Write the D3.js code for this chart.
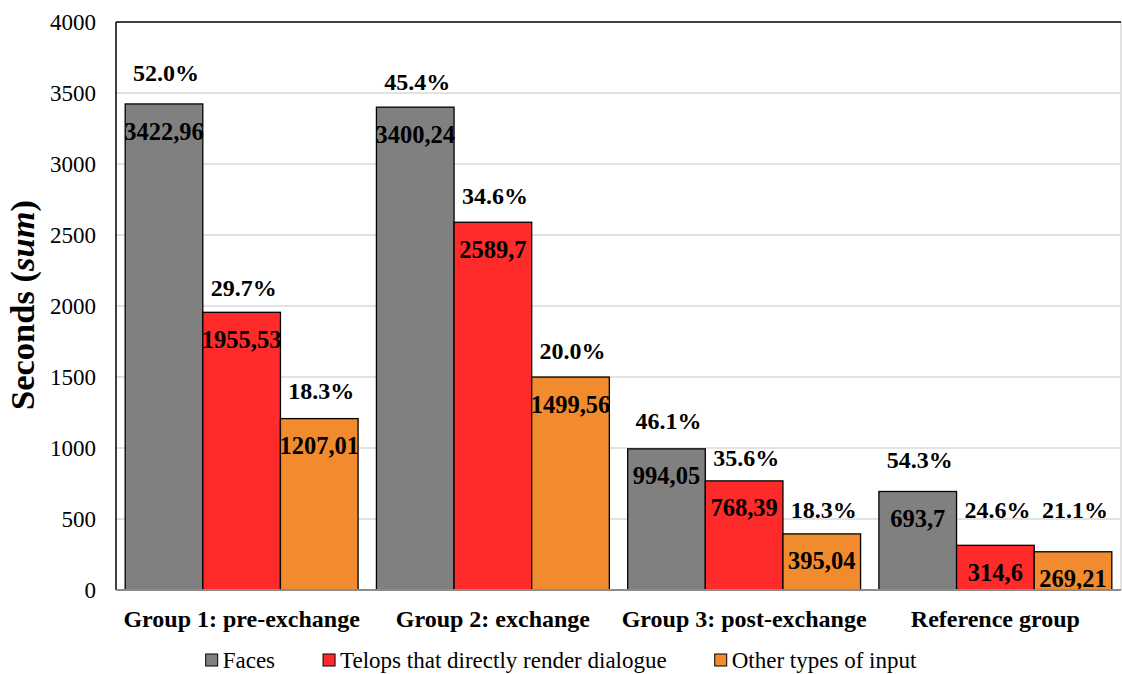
<!DOCTYPE html>
<html>
<head>
<meta charset="utf-8">
<script src="https://cdn.jsdelivr.net/npm/d3@7"></script>
<style>
  html, body { margin: 0; padding: 0; background: #fff; }
  svg { display: block; font-family: "Liberation Serif", "Times New Roman", serif; }
</style>
</head>
<body>
<svg id="chart" width="1122" height="674"></svg>
<script>
// ---- Data ----
const categories = ["Group 1: pre-exchange", "Group 2: exchange", "Group 3: post-exchange", "Reference group"];
const seriesNames = ["Faces", "Telops that directly render dialogue", "Other types of input"];
const faces  = [3422.96, 3400.24, 994.05, 693.7];
const telops = [1955.53, 2589.7, 768.39, 314.6];
const other  = [1207.01, 1499.56, 395.04, 269.21];
const yTicks = [0, 500, 1000, 1500, 2000, 2500, 3000, 3500, 4000];

// ---- Styling / layout ----
const colors = ["#808080", "#ff2b2b", "#f28a2e"];
// distance (px) of each percentage label centre above its bar top (manually placed in original)
const pctLift = [[31, 25, 28], [26, 27, 26], [28, 23, 24], [32, 36, 42]];

const svg = d3.select("#chart");
const pLeft = 116, pRight = 1121, pTop = 22, pBottom = 590;

const y = d3.scaleLinear().domain([0, 4000]).range([pBottom, pTop]);
const x0 = d3.scaleBand().domain(categories).range([pLeft, pRight]).paddingInner(0.073).paddingOuter(0.0365);
const x1 = d3.scaleBand().domain(d3.range(3)).range([0, x0.bandwidth()]).padding(0);

const seriesVals = [faces, telops, other];

// gridlines
svg.append("g").selectAll("line").data(yTicks.filter(t => t > 0 && t < 4000)).join("line")
  .attr("x1", pLeft).attr("x2", pRight)
  .attr("y1", d => y(d)).attr("y2", d => y(d))
  .attr("stroke", "#d9d9d9").attr("stroke-width", 1.5);

// frame
svg.append("line").attr("x1", pRight).attr("x2", pRight).attr("y1", pTop).attr("y2", pBottom)
  .attr("stroke", "#d9d9d9").attr("stroke-width", 1.5);
svg.append("line").attr("x1", pLeft).attr("x2", pRight).attr("y1", y(4000)).attr("y2", y(4000))
  .attr("stroke", "#000").attr("stroke-width", 1.5);
svg.append("line").attr("x1", pLeft).attr("x2", pLeft).attr("y1", pTop).attr("y2", pBottom)
  .attr("stroke", "#000").attr("stroke-width", 1.5);

// y axis labels
const yAxis = d3.axisLeft(y).tickValues(yTicks).tickSize(0).tickPadding(20).tickFormat(d3.format("d"));
const gy = svg.append("g").attr("transform", `translate(${pLeft},0)`).call(yAxis);
gy.attr("font-family", null);
gy.select(".domain").remove();
gy.selectAll("text").attr("font-family", "Liberation Serif").attr("font-size", 23).attr("fill", "#000");

// bars
const data = [];
categories.forEach((c, i) => {
  const total = d3.sum(seriesVals, s => s[i]);
  seriesVals.forEach((s, j) => data.push({ c, i, j, v: s[i], pct: s[i] / total * 100 }));
});

const gBars = svg.append("g");
gBars.selectAll("rect").data(data).join("rect")
  .attr("x", d => x0(d.c) + x1(d.j))
  .attr("y", d => y(d.v))
  .attr("width", x1.bandwidth())
  .attr("height", d => y(0) - y(d.v))
  .attr("fill", d => colors[d.j])
  .attr("stroke", "#000").attr("stroke-width", 1.3);

// bottom axis line
svg.append("line").attr("x1", pLeft).attr("x2", pRight).attr("y1", pBottom).attr("y2", pBottom)
  .attr("stroke", "#8c8c8c").attr("stroke-width", 2);

// value labels inside bars
gBars.selectAll("text.val").data(data).join("text").attr("class", "val")
  .attr("x", d => x0(d.c) + x1(d.j) + x1.bandwidth() / 2)
  .attr("y", d => y(d.v) + 27)
  .attr("dy", "0.35em")
  .attr("text-anchor", "middle")
  .attr("font-weight", "bold").attr("font-size", 24.5).attr("fill", "#000")
  .text(d => String(d.v).replace(".", ","));

// percentage labels above bars
gBars.selectAll("text.pct").data(data).join("text").attr("class", "pct")
  .attr("x", d => x0(d.c) + x1(d.j) + x1.bandwidth() / 2 + 2)
  .attr("y", d => y(d.v) - pctLift[d.i][d.j])
  .attr("dy", "0.35em")
  .attr("text-anchor", "middle")
  .attr("font-weight", "bold").attr("font-size", 24).attr("fill", "#000")
  .text(d => d.pct.toFixed(1) + "%");

// category labels
const xAxis = d3.axisBottom(x0).tickSize(0).tickPadding(20);
const gx = svg.append("g").attr("transform", `translate(0,${pBottom})`).call(xAxis);
gx.attr("font-family", null);
gx.select(".domain").remove();
gx.selectAll("text").attr("font-family", "Liberation Serif").attr("font-size", 24)
  .attr("font-weight", "bold").attr("fill", "#000");

// y axis title
const yt = svg.append("text")
  .attr("transform", `translate(34,305) rotate(-90)`)
  .attr("text-anchor", "middle")
  .attr("font-weight", "bold").attr("font-size", 34.5).attr("fill", "#000");
yt.append("tspan").text("Seconds (");
yt.append("tspan").attr("font-style", "italic").text("sum");
yt.append("tspan").text(")");

// legend
const lg = svg.append("g");
const items = lg.selectAll("g").data(seriesNames).join("g");
items.append("rect").attr("width", 12).attr("height", 12).attr("y", 654)
  .attr("fill", (d, i) => colors[i]).attr("stroke", "#000").attr("stroke-width", 1);
items.append("text").attr("x", 17).attr("y", 660).attr("dy", "0.35em")
  .attr("font-size", 23).attr("fill", "#000").text(d => d);
const gap = 48;
const widths = [];
items.each(function () { widths.push(17 + this.querySelector("text").getComputedTextLength()); });
const totalW = d3.sum(widths) + gap * (widths.length - 1);
const startX = 1122 / 2 - totalW / 2;
items.attr("transform", (d, i) => {
  const tx = startX + d3.sum(widths.slice(0, i)) + gap * i;
  return `translate(${tx},0)`;
});
</script>
</body>
</html>
